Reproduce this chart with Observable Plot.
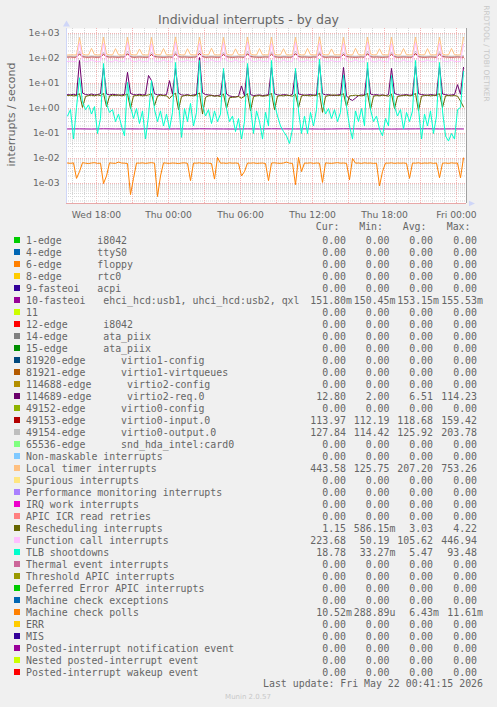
<!DOCTYPE html>
<html><head><meta charset="utf-8">
<script src="https://cdn.jsdelivr.net/npm/d3@7"></script>
<script src="https://cdn.jsdelivr.net/npm/@observablehq/plot@0.6"></script>
<style>
html,body{margin:0;padding:0;background:#F0F0F0;}
#wrap{position:relative;width:497px;height:707px;overflow:hidden;background:#F0F0F0;}
#chart svg{position:absolute;left:0;top:0;}
#over{position:absolute;left:0;top:0;}
</style></head>
<body><div id="wrap"><div id="chart"></div><svg id="over" width="497" height="707"></svg></div>
<script>
// ---------- data ----------
const legendLabels = [
"1-edge      i8042","4-edge      ttyS0","6-edge      floppy","8-edge      rtc0","9-fasteoi   acpi",
"10-fasteoi   ehci_hcd:usb1, uhci_hcd:usb2, qxl","11","12-edge      i8042","14-edge      ata_piix","15-edge      ata_piix",
"81920-edge      virtio1-config","81921-edge      virtio1-virtqueues","114688-edge      virtio2-config","114689-edge      virtio2-req.0",
"49152-edge      virtio0-config","49153-edge      virtio0-input.0","49154-edge      virtio0-output.0","65536-edge      snd_hda_intel:card0",
"Non-maskable interrupts","Local timer interrupts","Spurious interrupts","Performance monitoring interrupts","IRQ work interrupts",
"APIC ICR read retries","Rescheduling interrupts","Function call interrupts","TLB shootdowns","Thermal event interrupts",
"Threshold APIC interrupts","Deferred Error APIC interrupts","Machine check exceptions","Machine check polls","ERR","MIS",
"Posted-interrupt notification event","Nested posted-interrupt event","Posted-interrupt wakeup event"];
const legendColors = ["#00CC00","#0066B3","#FF8000","#FFCC00","#330099","#990099","#CCFF00","#FF0000","#808080","#008F00",
"#00487D","#B35A00","#B38F00","#6B006B","#8FB300","#B30000","#BEBEBE","#80FF80","#80C9FF","#FFC080","#FFE680","#AA80FF",
"#EE00CC","#FF8080","#666600","#FFBFFF","#00FFCC","#CC6699","#999900","#00CC00","#0066B3","#FF8000","#FFCC00","#330099",
"#990099","#CCFF00","#FF0000"];
const Z = "0.00";
const curVals = [Z,Z,Z,Z,Z,"151.80m",Z,Z,Z,Z,Z,Z,Z,"12.80",Z,"113.97","127.84",Z,Z,"443.58",Z,Z,Z,Z,"1.15","223.68","18.78",Z,Z,Z,Z,"10.52m",Z,Z,Z,Z,Z];
const minVals = [Z,Z,Z,Z,Z,"150.45m",Z,Z,Z,Z,Z,Z,Z,"2.00",Z,"112.19","114.42",Z,Z,"125.75",Z,Z,Z,Z,"586.15m","50.19","33.27m",Z,Z,Z,Z,"288.89u",Z,Z,Z,Z,Z];
const avgVals = [Z,Z,Z,Z,Z,"153.15m",Z,Z,Z,Z,Z,Z,Z,"6.51",Z,"118.68","125.92",Z,Z,"207.20",Z,Z,Z,Z,"3.03","105.62","5.47",Z,Z,Z,Z,"6.43m",Z,Z,Z,Z,Z];
const maxVals = [Z,Z,Z,Z,Z,"155.53m",Z,Z,Z,Z,Z,Z,Z,"114.23",Z,"159.42","203.78",Z,Z,"753.26",Z,Z,Z,Z,"4.22","446.94","93.48",Z,Z,Z,Z,"11.61m",Z,Z,Z,Z,Z];

const xTickTimes = ["2026-05-20T18:00Z","2026-05-21T00:00Z","2026-05-21T06:00Z","2026-05-21T12:00Z","2026-05-21T18:00Z","2026-05-22T00:00Z"];
const xTickLabels = ["Wed 18:00","Thu 00:00","Thu 06:00","Thu 12:00","Thu 18:00","Fri 00:00"];
const yTickValues = [1e-3,1e-2,1e-1,1,10,100,1000];

// samples every 15 min from Wed 15:35 (133 points), 10-fasteoi hourly (34 points)
const fasteoi10 = [0.152,0.153,0.151,0.154,0.152,0.153,0.152,0.155,0.151,0.153,0.152,0.154,0.153,0.152,0.151,0.153,0.152,0.154,0.153,0.152,0.153,0.151,0.152,0.154,0.153,0.152,0.153,0.151,0.152,0.153,0.154,0.152,0.153,0.152];
const virtio2req = [3.6,3.5,3.7,3.4,83,4.2,3.6,3.5, 3.8,3.5,3.6,3.9,44,3.8,3.5,3.7, 3.6,3.4,3.5,3.7,28,4.0,3.6,3.5, 3.7,3.5,3.6,21,13,3.9,3.5,3.6,
 3.4,3.6,13,3.7,40,4.1,3.5,3.4, 3.6,3.3,3.5,3.6,110,4.3,3.6,3.5, 3.4,3.2,3.3,3.5,30,3.8,3.2,3.0, 2.9,3.1,8,3.2,50,3.6,3.3,3.4,
 3.5,3.3,3.4,3.6,45,3.9,3.5,3.4, 3.6,3.5,3.3,3.7,32,3.8,3.6,3.4, 3.5,3.6,3.4,3.5,60,3.9,3.5,3.6, 3.4,3.3,3.5,3.6,44,3.2,2.4,2.1,
 2.6,3.3,3.5,3.4,40,3.8,3.5,3.6, 3.4,3.5,3.3,3.6,40,4.0,3.6,3.4, 3.5,3.6,3.4,3.5,50,3.9,3.6,3.5, 3.4,3.6,3.5,3.3,50,3.8,3.6,3.4,
 3.5,3.6,9,3.7,44];
const virtio0input = [115,116,114,115,152,117,115,114, 116,115,114,116,148,118,115,116, 115,114,116,115,155,117,114,115, 116,115,114,115,145,118,116,115,
 114,115,116,114,150,117,115,116, 115,114,115,116,159,118,114,115, 116,115,114,115,147,117,115,114, 115,116,115,114,153,118,116,115,
 114,115,116,115,149,117,115,114, 116,115,114,116,156,118,115,116, 115,114,116,115,151,117,114,115, 116,115,114,115,146,118,116,115,
 114,115,116,114,154,117,115,116, 115,114,115,116,148,118,114,115, 116,115,114,115,157,117,115,114, 115,116,115,114,150,118,116,115,
 114,115,116,115,114];
const virtio0output = [124,125,123,124,190,128,124,123, 126,124,123,125,182,129,124,125, 124,123,125,124,198,128,123,124, 125,124,123,124,176,129,125,124,
 123,124,125,123,188,128,124,125, 124,123,124,125,204,129,123,124, 125,124,123,124,180,128,124,123, 124,125,124,123,194,129,125,124,
 123,124,125,124,185,128,124,123, 125,124,123,125,200,129,124,125, 124,123,125,124,186,128,123,124, 125,124,123,124,178,129,125,124,
 123,124,125,123,196,128,124,125, 124,123,124,125,183,129,123,124, 125,124,123,124,199,128,124,123, 124,125,124,123,188,129,125,124,
 123,124,125,124,128];
const localTimer = [138,141,139,140,690,152,140,138, 255,142,139,141,720,150,141,139, 248,140,138,142,705,148,140,139, 240,141,139,140,695,151,142,140,
 252,139,141,140,730,149,140,138, 246,142,140,139,710,153,141,140, 258,140,139,141,700,150,140,139, 244,141,140,142,725,152,141,138,
 250,139,141,140,715,148,140,141, 247,140,139,142,705,151,139,140, 253,141,140,139,735,150,141,140, 242,139,141,140,700,149,140,139,
 256,142,139,141,720,152,140,141, 245,140,141,139,710,150,139,140, 251,141,140,142,725,148,141,139, 249,139,140,141,705,151,140,140,
 254,141,139,140,700];
const rescheduling = [3.3,3.4,3.2,3.3,3.9,1.1,3.0,3.3, 3.4,3.2,3.5,3.3,4.0,1.2,3.1,3.4, 3.3,3.5,3.2,3.4,3.8,1.0,3.2,3.3, 3.4,3.2,3.3,3.5,3.9,1.3,3.1,3.4,
 3.3,3.2,2.5,3.4,4.1,0.9,3.0,3.3, 3.4,3.3,3.2,3.5,4.2,0.6,2.8,3.2, 3.3,3.1,3.2,3.0,3.8,1.0,2.7,2.8, 2.9,3.0,2.6,3.1,3.9,0.8,3.0,3.2,
 3.3,3.1,3.2,3.4,4.0,0.9,3.1,3.3, 3.2,3.4,3.3,3.1,3.7,1.1,3.2,3.4, 3.3,3.2,3.4,3.3,4.1,0.7,3.0,3.3, 3.4,3.5,3.3,3.4,3.9,1.2,3.2,3.3,
 3.4,3.3,3.2,3.4,4.0,0.9,3.1,3.3, 3.2,3.4,3.3,3.1,3.8,1.0,3.0,3.2, 3.3,3.4,3.2,3.3,4.0,0.8,3.1,3.3, 3.4,3.2,3.3,3.5,3.9,1.1,3.2,3.3,
 3.2,3.3,3.1,2.0,1.15];
const functionCall = [76,78,75,77,420,82,74,76, 88,77,75,76,410,80,75,74, 86,76,77,75,430,81,76,75, 85,74,76,77,395,79,75,76,
 87,75,76,74,440,82,75,77, 84,76,75,76,415,80,74,75, 89,77,75,76,425,81,76,75, 86,75,74,76,445,83,75,76,
 85,76,77,75,405,80,76,74, 88,75,76,77,435,79,75,76, 86,74,76,75,420,82,76,75, 84,76,75,77,410,80,75,76,
 87,75,77,76,440,81,74,75, 85,76,75,74,400,79,76,75, 88,75,76,77,430,83,75,76, 86,77,75,76,415,80,76,75,
 87,76,75,77,380];
const tlbShootdowns = [0.5,0.9,0.06,1.1,17,1.8,0.9,1.4, 0.6,1.2,0.1,0.4,63,1.5,0.7,0.9, 0.3,0.6,0.2,0.08,11,1.2,0.4,1.0, 0.25,0.8,0.06,0.5,13,0.9,0.3,0.8,
 0.2,0.6,0.15,0.7,69,2.0,0.07,1.0, 0.3,1.6,0.2,0.7,83,1.4,0.5,0.9, 0.25,0.8,0.3,0.6,40,1.0,0.3,0.5, 0.12,0.4,0.06,0.3,63,1.2,0.1,0.8,
 0.3,0.06,0.7,0.2,83,1.5,0.5,0.2, 0.12,0.08,0.04,0.15,40,0.8,0.1,0.5, 0.1,0.7,0.2,0.9,93,1.8,0.6,1.0, 0.4,0.9,0.3,0.7,22,1.2,0.2,0.06,
 0.8,0.3,1.0,0.2,69,0.9,0.3,0.5, 0.15,0.08,0.4,0.2,21,1.2,0.5,0.9, 0.15,0.7,0.3,0.8,83,1.0,0.06,0.6, 0.2,0.8,0.1,0.5,69,0.8,0.08,0.05,
 0.1,0.06,0.9,1.1,30];
const machineCheckPolls = [0.0066,0.0064,0.0067,0.0016,0.003,0.0068,0.0065,0.0063, 0.0066,0.0068,0.0064,0.0065,0.001,0.002,0.0067,0.0065,
 0.0064,0.0072,0.0066,0.0065,0.0063,0.00036,0.0016,0.0066, 0.0065,0.0067,0.0064,0.0066,0.0068,0.0065,0.0003,0.002,
 0.0067,0.0065,0.0064,0.0066,0.0065,0.0063,0.0066,0.0067, 0.0064,0.0013,0.0066,0.0065,0.0067,0.0064,0.0066,0.0065,
 0.0063,0.0015,0.011,0.0065,0.0066,0.0064,0.0067,0.0065, 0.0066,0.0064,0.002,0.003,0.0066,0.0065,0.0067,0.0064,
 0.0065,0.0066,0.0063,0.0013,0.0066,0.0067,0.0065,0.0064, 0.0066,0.0072,0.0065,0.0064,0.0009,0.011,0.003,0.0066,
 0.0065,0.0067,0.0064,0.0066,0.0065,0.0011,0.0067,0.0065, 0.0064,0.0066,0.0068,0.0065,0.0066,0.0064,0.0014,0.010,
 0.0065,0.0066,0.0064,0.0067,0.0065,0.0066,0.0064,0.0065, 0.0008,0.003,0.0066,0.0065,0.0067,0.0064,0.0066,0.0065,
 0.0066,0.0064,0.0016,0.0066,0.0065,0.0067,0.0064,0.0066, 0.0065,0.0067,0.0064,0.0066,0.0017,0.0065,0.0066,0.0064,
 0.0067,0.0065,0.0066,0.0017,0.0105];

// ---------- build ----------
const T_START = Date.UTC(2026, 4, 20, 15, 35);
const MIN = 60 * 1000;
const rows = (vals, stepMin) => vals.map((v, i) => ({t: new Date(T_START + i * stepMin * MIN), v}));
const drawn = [
  {idx: 5, data: rows(fasteoi10, 60)},
  {idx: 13, data: rows(virtio2req, 15)},
  {idx: 15, data: rows(virtio0input, 15)},
  {idx: 16, data: rows(virtio0output, 15)},
  {idx: 19, data: rows(localTimer, 15)},
  {idx: 24, data: rows(rescheduling, 15)},
  {idx: 25, data: rows(functionCall, 15)},
  {idx: 26, data: rows(tlbShootdowns, 15)},
  {idx: 31, data: rows(machineCheckPolls, 15)}
];

const xDomain = [new Date(Date.UTC(2026, 4, 20, 15, 30)), new Date(Date.UTC(2026, 4, 22, 0, 50))];
const yDomain = [Math.pow(10, -3.8), Math.pow(10, 3.2)];
const minorY = [];
for (let e = -4; e <= 3; e++) for (let m = 2; m <= 9; m++) { const v = m * Math.pow(10, e); if (v > yDomain[0] && v < yDomain[1]) minorY.push(v); }
const hours = d3.utcHour.range(xDomain[0], xDomain[1]).filter(d => d > xDomain[0]);
const minorX = hours.filter(d => d.getUTCHours() % 3 !== 0);
const majorX = hours.filter(d => d.getUTCHours() % 3 === 0);
const xTicks = xTickTimes.map(s => new Date(s));
const xLabelMap = new Map(xTicks.map((d, i) => [+d, xTickLabels[i]]));
const fmtY = d => { const e = Math.round(Math.log10(d)); return "1e" + (e < 0 ? "-" : "+") + String(Math.abs(e)).padStart(2, "0"); };

const rightTri = {draw(ctx, size) { const s = Math.sqrt(size); ctx.moveTo(s * 0.7, 0); ctx.lineTo(-s * 0.5, -s * 0.55); ctx.lineTo(-s * 0.5, s * 0.55); ctx.closePath(); }};

const lines = drawn.map(s => Plot.line(s.data, {x: "t", y: "v", stroke: legendColors[s.idx], strokeWidth: 1}));

const chart = Plot.plot({
  width: 497, height: 220,
  marginLeft: 66, marginRight: 31, marginTop: 28, marginBottom: 17,
  style: {background: "transparent", fontFamily: "'DejaVu Sans', sans-serif", fontSize: "9.2px", color: "#666"},
  x: {type: "utc", domain: xDomain, axis: null, label: null},
  y: {type: "log", domain: yDomain, axis: null, label: null},
  marks: [
    Plot.frame({fill: "#FFFFFF", stroke: null}),
    Plot.ruleY(minorY, {stroke: "#D4D4D4", strokeDasharray: "1,1"}),
    Plot.ruleX(minorX, {stroke: "#D4D4D4", strokeDasharray: "1,1"}),
    Plot.ruleY(yTickValues, {stroke: "#F2B4B4", strokeDasharray: "1,1"}),
    Plot.ruleX(majorX, {stroke: "#F2B4B4", strokeDasharray: "1,1"}),
    ...lines,
    Plot.ruleY([yDomain[0]], {stroke: "#E8A8A8"}),
    Plot.ruleX([xDomain[0]], {stroke: "#CFD6F8"}),
    Plot.ruleX([xDomain[1]], {stroke: "#A0A0A0"}),
    Plot.dot([0], {x: () => xDomain[0], y: () => yDomain[1], symbol: "triangle", r: 2.6, fill: "#CFD6F8", stroke: null, dy: -4}),
    Plot.dot([0], {x: () => xDomain[1], y: () => yDomain[0], symbol: rightTri, r: 2.8, fill: "#CFD6F8", stroke: null, dx: 5}),
    Plot.axisY(yTickValues, {tickFormat: fmtY, tickSize: 0, tickPadding: 7, fill: "#666", fontSize: 9.2, label: null}),
    Plot.axisX(xTicks, {tickFormat: d => xLabelMap.get(+d), tickSize: 0, tickPadding: 7.5, fill: "#666", fontSize: 9.2, label: null})
  ]
});
document.getElementById("chart").appendChild(chart);

// ---------- texts ----------
const over = d3.select("#over");
const SANS = "'DejaVu Sans', sans-serif", MONO = "'DejaVu Sans Mono', monospace";
over.append("text").attr("x", 248.5).attr("y", 23.5).attr("text-anchor", "middle")
  .attr("font-family", SANS).attr("font-size", 12.5).attr("fill", "#666").text("Individual interrupts - by day");
over.append("text").attr("transform", "translate(15,114.5) rotate(-90)").attr("text-anchor", "middle")
  .attr("font-family", SANS).attr("font-size", 11).attr("fill", "#666").text("interrupts / second");
over.append("text").attr("transform", "translate(484,53.5) rotate(90)").attr("text-anchor", "middle")
  .attr("font-family", SANS).attr("font-size", 7.5).attr("fill", "#C8C8C8").text("RRDTOOL / TOBI OETIKER");

const colEdges = [346, 389.5, 433, 477];
const headers = ["Cur:", "Min:", "Avg:", "Max:"];
headers.forEach((h, j) => over.append("text").attr("x", colEdges[j] - 6.5).attr("y", 230).attr("text-anchor", "end")
  .attr("font-family", MONO).attr("font-size", 9.9).attr("fill", "#666").text(h));

const cols = [curVals, minVals, avgVals, maxVals];
legendLabels.forEach((lab, i) => {
  const y = 243.5 + 12 * i;
  over.append("rect").attr("x", 14).attr("y", y - 6.5).attr("width", 6).attr("height", 6).attr("fill", legendColors[i]);
  over.append("text").attr("x", 26).attr("y", y).attr("font-family", MONO).attr("font-size", 9.9)
    .attr("fill", "#666").style("white-space", "pre").text(lab);
  cols.forEach((arr, j) => {
    const m = arr[i].match(/^([\d.]+)(\D?)$/);
    over.append("text").attr("x", colEdges[j]).attr("y", y).attr("text-anchor", "end").attr("font-family", MONO)
      .attr("font-size", 9.9).attr("fill", "#666").text(m[1]);
    if (m[2]) over.append("text").attr("x", colEdges[j]).attr("y", y).attr("font-family", MONO)
      .attr("font-size", 9.9).attr("fill", "#666").text(m[2]);
  });
});
over.append("text").attr("x", 483).attr("y", 687).attr("text-anchor", "end").attr("font-family", MONO)
  .attr("font-size", 9.9).attr("fill", "#666").style("white-space", "pre").text("Last update: Fri May 22 00:41:15 2026");
over.append("text").attr("x", 248).attr("y", 699).attr("text-anchor", "middle").attr("font-family", SANS)
  .attr("font-size", 7).attr("fill", "#C8C8C8").text("Munin 2.0.57");
</script></body></html>
